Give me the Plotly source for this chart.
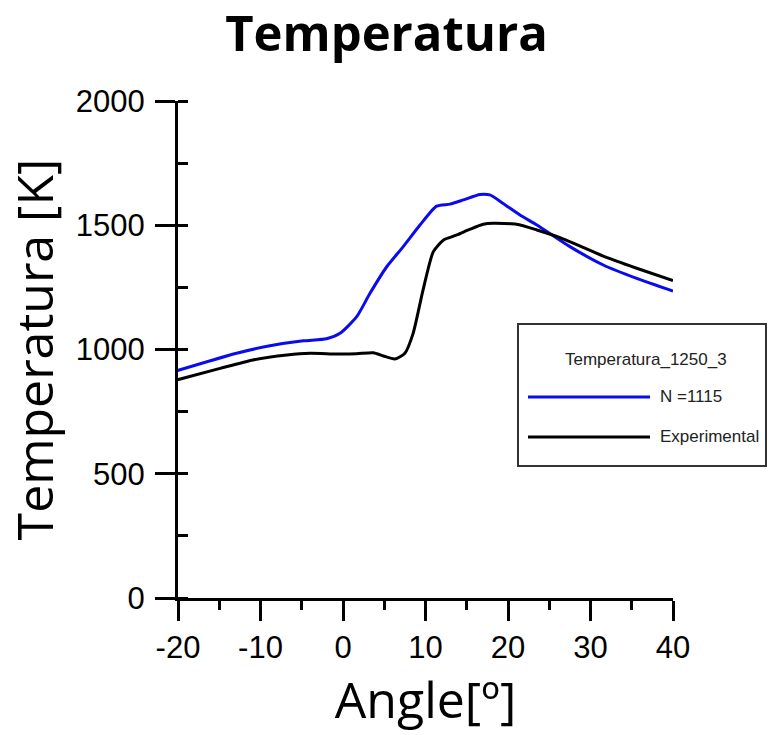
import plotly.graph_objects as go

# Simulation series (N = 1115)
angle_sim = [-20.2, -12.9, -8.85, -4.8, -2.0, -0.36, 1.66, 3.27, 5.3, 7.3, 9.33,
             11.35, 12.97, 14.6, 16.6, 17.8, 19.4, 21.45, 23.5, 27.5, 31.55, 35.6, 40.0]
temp_sim = [914, 985, 1015, 1035, 1043, 1065, 1132, 1226, 1333, 1414, 1501,
            1577, 1585, 1602, 1624, 1622, 1588, 1541, 1501, 1414, 1340, 1286, 1235]

# Experimental series
angle_exp = [-20.2, -14.9, -10.9, -6.8, -4.0, -0.76, 1.66, 3.67, 4.9, 6.3, 7.5, 8.5,
             9.7, 10.95, 12.2, 13.8, 15.4, 17.0, 18.2, 21.05, 23.5, 26.3, 31.55, 35.6, 40.0]
temp_exp = [877, 924, 958, 978, 985, 982, 983, 987, 974, 962, 985, 1065,
            1239, 1394, 1441, 1461, 1484, 1504, 1508, 1504, 1481, 1450, 1376, 1327, 1277]

series_names = ["N =1115", "Experimental"]
series_colors = ["#0a0af0", "#000000"]
legend_title = "Temperatura_1250_3"

x_ticks = [-20, -10, 0, 10, 20, 30, 40]
x_tick_labels = ["-20", "-10", "0", "10", "20", "30", "40"]
y_ticks = [0, 500, 1000, 1500, 2000]
y_tick_labels = ["0", "500", "1000", "1500", "2000"]

fig = go.Figure()
for xs, ys, name, col in [(angle_sim, temp_sim, series_names[0], series_colors[0]),
                          (angle_exp, temp_exp, series_names[1], series_colors[1])]:
    fig.add_trace(go.Scatter(x=xs, y=ys, mode="lines", name=name,
                             line=dict(color=col, width=3, shape="spline", smoothing=0.6),
                             showlegend=False))

axis_common = dict(showline=True, linecolor="black", linewidth=3, showgrid=False,
                   zeroline=False, ticks="outside", ticklen=20, tickwidth=3,
                   tickcolor="black",
                   tickfont=dict(family="Liberation Sans, Arial, sans-serif", size=31, color="black"))

fig.update_xaxes(range=[-20, 40], tickvals=x_ticks, ticktext=x_tick_labels, **axis_common,
                 minor=dict(ticks="outside", ticklen=9, tickwidth=3, dtick=5, tick0=-15,
                            tickcolor="black"),
                 title=dict(text="Angle[º]", standoff=14,
                            font=dict(family="Open Sans, sans-serif", size=50, color="black")))
fig.update_yaxes(range=[0, 2000], tickvals=y_ticks, ticktext=y_tick_labels, **axis_common,
                 ticklabelstandoff=4,
                 minor=dict(ticks="inside", ticklen=10, tickwidth=3, dtick=250, tick0=250,
                            tickcolor="black"),
                 title=dict(text="Temperatura [K]", standoff=12,
                            font=dict(family="Open Sans, sans-serif", size=50, color="black")))

# Framed legend drawn in paper coordinates
px0, px1, py0, py1 = 178, 673, 598, 101
def pxx(p):
    return (p - px0) / (px1 - px0)
def pyy(p):
    return (py0 - p) / (py0 - py1)

legend_font = dict(family="Liberation Sans, Arial, sans-serif", size=17, color="#222222")
shapes = [dict(type="rect", xref="paper", yref="paper",
               x0=pxx(518), x1=pxx(766), y0=pyy(466), y1=pyy(324),
               line=dict(color="#333333", width=2), fillcolor="white", layer="above")]
annotations = [dict(text=legend_title, xref="paper", yref="paper",
                    x=pxx(646), y=pyy(359), xanchor="center", yanchor="middle",
                    showarrow=False, font=legend_font)]
for i, (name, col) in enumerate(zip(series_names, series_colors)):
    ly = [397, 437][i]
    shapes.append(dict(type="line", xref="paper", yref="paper",
                       x0=pxx(528), x1=pxx(650), y0=pyy(ly), y1=pyy(ly),
                       line=dict(color=col, width=3), layer="above"))
    annotations.append(dict(text=name, xref="paper", yref="paper",
                            x=pxx(658), y=pyy(ly - 1), xanchor="left", yanchor="middle",
                            showarrow=False, font=legend_font))

fig.update_layout(
    width=773, height=735,
    margin=dict(l=178, r=100, t=101, b=137, autoexpand=False),
    paper_bgcolor="white", plot_bgcolor="white",
    title=dict(text="<b>Temperatura</b>", x=0.5, xref="container", xanchor="center",
               y=1 - 34 / 735, yref="container", yanchor="middle",
               font=dict(family="Open Sans, sans-serif", size=49, color="black")),
    shapes=shapes, annotations=annotations,
)

fig.write_html("out.html")
